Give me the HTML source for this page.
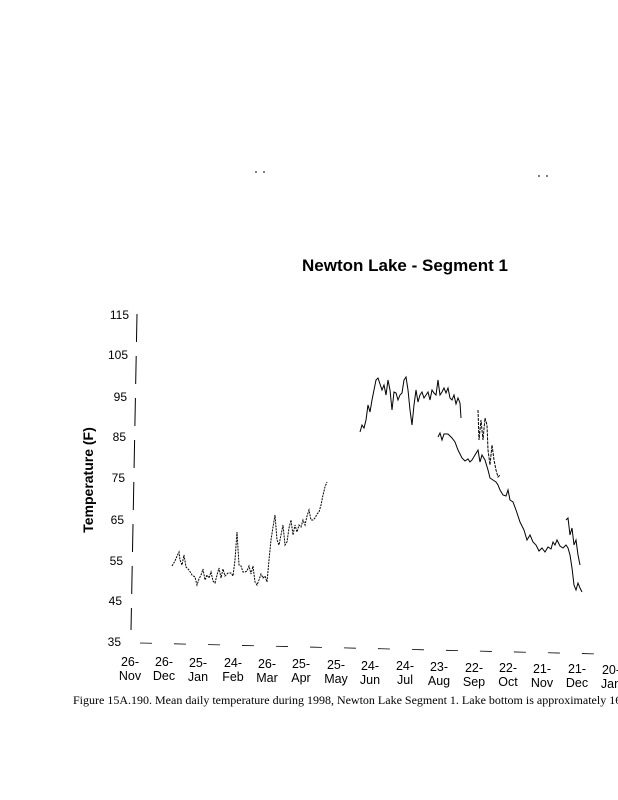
<!DOCTYPE html>
<html><head><meta charset="utf-8"><style>
html,body{margin:0;padding:0;background:#fff;}
body{width:618px;height:800px;position:relative;overflow:hidden;}
</style></head><body>
<svg width="618" height="800" viewBox="0 0 618 800" xmlns="http://www.w3.org/2000/svg" style="position:absolute;left:0;top:0">
<g font-family="Liberation Sans, sans-serif" fill="#000">
<text x="405" y="271" font-size="17" font-weight="bold" text-anchor="middle">Newton Lake - Segment 1</text>
<text transform="translate(93,480) rotate(-90)" font-size="14" font-weight="bold" text-anchor="middle">Temperature (F)</text>
<g font-size="12" text-anchor="end">
<text x="129" y="319">115</text><text x="128" y="359">105</text><text x="127" y="401">95</text><text x="126" y="441">85</text><text x="125" y="482">75</text><text x="124" y="524">65</text><text x="123" y="565">55</text><text x="122" y="605">45</text><text x="121" y="646">35</text>
</g>
<g font-size="12.5" text-anchor="middle">
<text x="130" y="666">26-</text><text x="130" y="680">Nov</text>
<text x="164" y="666">26-</text><text x="164" y="680">Dec</text>
<text x="198" y="667">25-</text><text x="198" y="681">Jan</text>
<text x="233" y="667">24-</text><text x="233" y="681">Feb</text>
<text x="267" y="668">26-</text><text x="267" y="682">Mar</text>
<text x="301" y="668">25-</text><text x="301" y="682">Apr</text>
<text x="336" y="669">25-</text><text x="336" y="683">May</text>
<text x="370" y="670">24-</text><text x="370" y="684">Jun</text>
<text x="405" y="670">24-</text><text x="405" y="684">Jul</text>
<text x="439" y="671">23-</text><text x="439" y="685">Aug</text>
<text x="474" y="672">22-</text><text x="474" y="686">Sep</text>
<text x="508" y="672">22-</text><text x="508" y="686">Oct</text>
<text x="542" y="673">21-</text><text x="542" y="687">Nov</text>
<text x="577" y="673">21-</text><text x="577" y="687">Dec</text>
<text x="611" y="674">20-</text><text x="611" y="688">Jan</text>
</g>
<text x="73" y="704" font-family="Liberation Serif, serif" font-size="12">Figure 15A.190. Mean daily temperature during 1998, Newton Lake Segment 1.  Lake bottom is approximately 16.</text>
</g>
<g stroke="#000" fill="none" stroke-width="1">
<line x1="137" y1="314" x2="131" y2="630" stroke-dasharray="28,14"/>
<line x1="140" y1="643" x2="600" y2="654" stroke-dasharray="12,22" stroke-width="0.8"/>
<line x1="255" y1="172" x2="268" y2="172" stroke-dasharray="2,6"/>
<line x1="538" y1="176" x2="548" y2="176" stroke-dasharray="2,6"/>
<polyline stroke-dasharray="2,1" points="172,566 175,561 177,556 179,552 180,560 182,565 184,555 186,567 189,570 192,575 195,577 197,585 199,579 201,575 203,569 205,580 207,575 209,578 211,572 213,581 215,583 217,575 219,568 221,578 223,569 225,576 228,573 231,573 233,576 235,560 237,532 239,565 241,566 243,572 245,572 247,571 249,566 251,574 253,566 255,582 257,585 259,580 261,574 263,578 265,576 267,582 269,560 271,540 273,527 275,515 277,540 279,545 281,535 283,525 285,545 287,542 289,528 291,520 293,535 295,525 297,532 299,525 301,527 303,520 305,525 307,516 309,510 311,520 313,520 315,518 317,514 319,512 321,505 323,495 325,487 327,482"/>
<polyline points="360,432 362,425 364,428 366,420 368,405 370,412 372,400 374,390 376,380 378,378 380,384 382,390 384,385 386,395 388,380 390,390 392,410 394,392 396,393 398,400 400,395 402,393 404,380 406,377 408,390 410,410 412,425 414,405 416,390 418,402 420,395 422,392 424,398 426,395 428,392 430,400 432,390 434,393 436,395 438,380 440,395 442,392 444,388 446,393 448,388 450,398 452,400 454,395 456,404 458,398 460,403 461,418"/>
<polyline points="438,437 440,433 442,440 444,434 446,434 448,434 450,436 452,438 455,442 458,450 462,458 465,461 468,459 470,462 472,460 475,455 478,450 480,462 482,455 485,460 488,470 490,478 493,480 496,482 498,485 500,490 503,495 506,496 508,490 510,500 513,502 516,510 520,522 524,530 527,540 530,535 533,542 536,545 539,551 542,548 545,552 548,547 551,549 553,542 555,545 557,540 560,546 563,548 566,545 568,548 570,555 572,568 574,585 576,590 578,583 580,588 582,592"/>
<polyline stroke-dasharray="3,1" points="478,410 479,440 481,420 483,440 485,418 487,425 488,450 490,465 492,445 494,460 496,470 498,477 500,475"/>
<polyline points="566,520 568,518 570,535 572,528 574,545 576,540 578,555 580,565"/>
</g>
</svg>
</body></html>
